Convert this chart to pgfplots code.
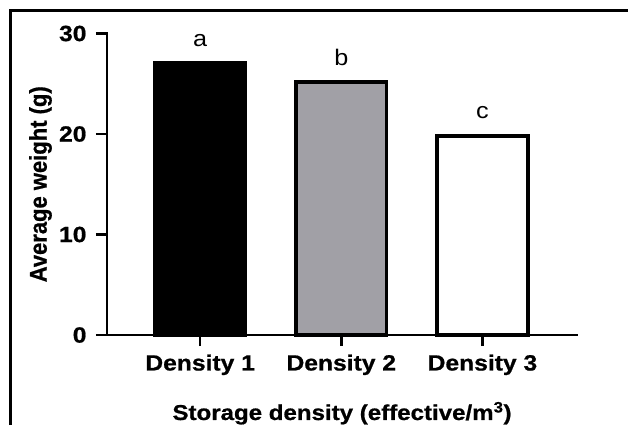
\documentclass[border=0pt]{standalone}
\usepackage{fontspec}
\setmainfont{Liberation Sans}[FakeStretch=1.12, BoldFeatures={FakeBold=0.8}]
\newfontfamily\ylabfont{Liberation Sans}[BoldFeatures={FakeBold=0.8}]
\usepackage{graphicx}
\usepackage{pgfplots}
\pgfplotsset{compat=1.18}
\definecolor{bargray}{RGB}{161,160,166}
\begin{document}
\begin{tikzpicture}
\useasboundingbox (-107pt,-90pt) rectangle (521pt,335pt);
\begin{axis}[
  at={(0pt,0pt)}, anchor=south west,
  scale only axis, width=470pt, height=301.5pt,
  xmin=-0.66, xmax=2.67, ymin=0, ymax=30,
  axis x line*=bottom, axis y line*=left,
  axis line style={line width=2.6pt, line cap=rect},
  xtick={0,1,2}, xticklabels={Density 1, Density 2, Density 3},
  ytick={0,10,20,30},
  tick align=outside, major tick length=11pt,
  tick style={line width=2.6pt, black},
  ticklabel style={font=\bfseries\fontsize{22}{22}\selectfont},
  xticklabel style={yshift=-5pt},
  yticklabel style={xshift=-6pt},
  /pgf/number format/assume math mode=true,
  xlabel={Storage density (effective/m\textsuperscript{3})},
  xlabel style={at={(axis description cs:0.5,-0.2819)}, anchor=base, font=\bfseries\fontsize{21.5}{21.5}\selectfont},
  ylabel={\scalebox{1}[1.1]{\ylabfont\bfseries\fontsize{22}{22}\selectfont Average weight (g)}},
  ylabel style={at={(axis description cs:-0.1283,0.5)}, anchor=base},
  clip=false,
  every node near coord/.append style={font=\fontsize{22.5}{22.5}\selectfont, anchor=base, text=black},
]
\addplot[ybar, bar shift=0pt, bar width=0.64, fill=black, draw=black, line width=3.8pt,
  nodes near coords={a}, every node near coord/.append style={yshift=16pt}]
  coordinates {(0,27.1)};
\addplot[ybar, bar shift=0pt, bar width=0.64, fill=bargray, draw=black, line width=3.8pt,
  nodes near coords={b}, every node near coord/.append style={yshift=16pt}]
  coordinates {(1,25.2)};
\addplot[ybar, bar shift=0pt, bar width=0.64, fill=white, draw=black, line width=3.8pt,
  nodes near coords={c}, every node near coord/.append style={yshift=18pt}]
  coordinates {(2,19.8)};
\end{axis}
\draw[line width=2.5pt, line join=miter] (-96.5pt,-90pt) -- (-96.5pt,324.5pt) -- (521pt,324.5pt);
\end{tikzpicture}
\end{document}
